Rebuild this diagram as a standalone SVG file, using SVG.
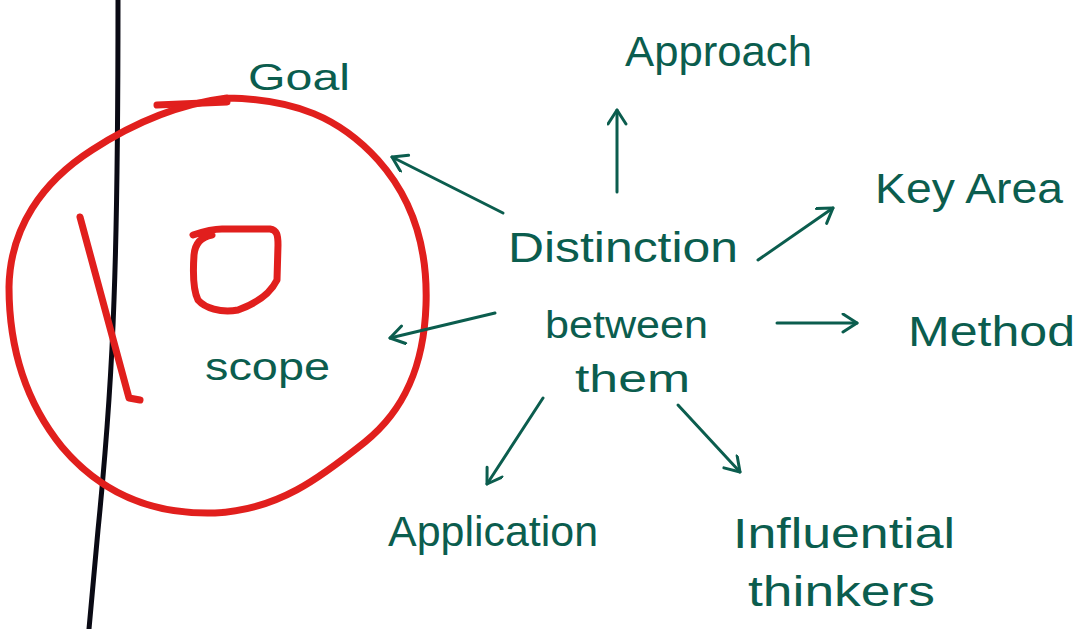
<svg xmlns="http://www.w3.org/2000/svg" width="1084" height="629" viewBox="0 0 1084 629">
  <style>
    .ink { fill: #0b5d4e; font-family: "Liberation Sans", "DejaVu Sans", sans-serif; }
    .link { fill: none; stroke: #0b5d4e; stroke-width: 3; stroke-linecap: round; stroke-linejoin: round; }
    .red { fill: none; stroke: #e11f1d; stroke-width: 7; stroke-linecap: round; stroke-linejoin: round; }
  </style>
  <defs>
    <marker id="head" markerUnits="userSpaceOnUse" markerWidth="24" markerHeight="24" refX="17" refY="10" orient="auto">
      <path d="M3,1 L17,10 L3,19" fill="none" stroke="#0b5d4e" stroke-width="3" stroke-linecap="round" stroke-linejoin="round"/>
    </marker>
  </defs>

  <rect width="1084" height="629" fill="#ffffff"/>

  <!-- margin line -->
  <path d="M118,0 C118,120 117,220 114,300 C111,390 104,470 98,530 C94,575 91,605 89,629" fill="none" stroke="#0a0a14" stroke-width="5" stroke-linecap="round"/>

  <!-- red annotation: circle, slash and small ring -->
  <g id="scope-mark">
    <path class="red" d="M157,105 L227,102"/>
    <path class="red" d="M227,98 C295,99 340,118 378,160 C412,198 428,248 426,305 C424,365 405,410 365,442 C320,478 278,510 215,513 C150,515 100,492 62,447 C28,405 9,352 9,287 C10,228 42,182 92,150 C135,122 178,104 227,98"/>
    <path class="red" d="M80,217 L129,398 L140,400"/>
    <path class="red" d="M193,235 C205,231 215,229 222,229 L270,229 C277,230 278,235 278,245 L277,280 C270,294 255,304 238,310 C220,313 205,308 198,300 C193,290 193,270 194,255 C195,244 200,237 212,235"/>
  </g>

  <!-- connectors -->
  <g id="connectors">
    <path class="link" d="M503,213 L392,157" marker-end="url(#head)"/>
    <path class="link" d="M617,192 L617,110" marker-end="url(#head)"/>
    <path class="link" d="M758,260 L833,208" marker-end="url(#head)"/>
    <path class="link" d="M777,323 L857,323" marker-end="url(#head)"/>
    <path class="link" d="M495,313 L390,338" marker-end="url(#head)"/>
    <path class="link" d="M543,398 L487,484" marker-end="url(#head)"/>
    <path class="link" d="M678,405 L740,472" marker-end="url(#head)"/>
  </g>

  <!-- nodes -->
  <g id="center">
    <text class="ink" x="508" y="262" font-size="42" textLength="230" lengthAdjust="spacingAndGlyphs">Distinction</text>
    <text class="ink" x="545" y="338" font-size="38" textLength="163" lengthAdjust="spacingAndGlyphs">between</text>
    <text class="ink" x="575" y="392" font-size="38" textLength="115" lengthAdjust="spacingAndGlyphs">them</text>
  </g>
  <g id="goal">
    <text class="ink" x="248" y="90" font-size="36" textLength="102" lengthAdjust="spacingAndGlyphs">Goal</text>
  </g>
  <g id="approach">
    <text class="ink" x="625" y="66" font-size="42" textLength="187" lengthAdjust="spacingAndGlyphs">Approach</text>
  </g>
  <g id="key-area">
    <text class="ink" x="875" y="203" font-size="42" textLength="188" lengthAdjust="spacingAndGlyphs">Key Area</text>
  </g>
  <g id="method">
    <text class="ink" x="908" y="346" font-size="42" textLength="167" lengthAdjust="spacingAndGlyphs">Method</text>
  </g>
  <g id="scope">
    <text class="ink" x="205" y="380" font-size="38" textLength="125" lengthAdjust="spacingAndGlyphs">scope</text>
  </g>
  <g id="application">
    <text class="ink" x="388" y="546" font-size="42" textLength="210" lengthAdjust="spacingAndGlyphs">Application</text>
  </g>
  <g id="influential-thinkers">
    <text class="ink" x="733" y="548" font-size="42" textLength="222" lengthAdjust="spacingAndGlyphs">Influential</text>
    <text class="ink" x="748" y="606" font-size="42" textLength="187" lengthAdjust="spacingAndGlyphs">thinkers</text>
  </g>
</svg>
